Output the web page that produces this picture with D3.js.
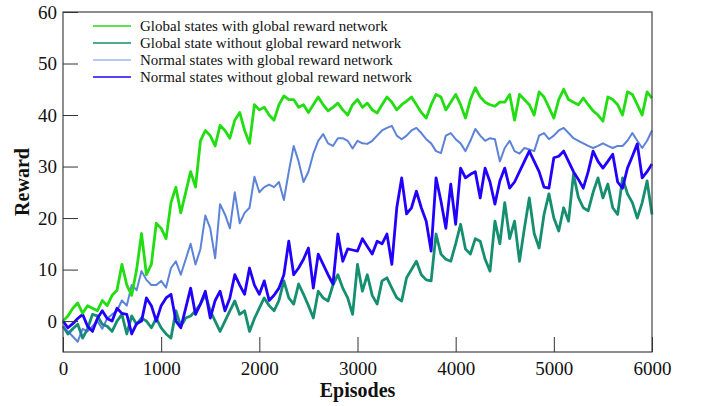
<!DOCTYPE html>
<html>
<head>
<meta charset="utf-8">
<script src="https://cdn.jsdelivr.net/npm/d3@7"></script>
<style>
  body { margin: 0; background: #fff; }
  svg { display: block; }
</style>
</head>
<body>
<div id="chart"></div>
<script>
// episodes sampled every 50 (0..6000)
const episodes = d3.range(0, 6001, 50);

const globalWithNet = [
  0, 1, 2.5, 3.5, 1.5, 3, 2.5, 2, 4, 3, 5, 6, 11, 7, 5, 10, 17, 9, 11, 19,
  18, 16, 23, 26, 21, 25, 29, 26, 35, 37, 36, 34, 38, 37, 35.5, 39, 40.5, 37, 34.5, 42,
  41, 41.5, 40, 39, 42, 43.7, 43, 43, 41.5, 42, 40.5, 42, 43.5, 42, 40.8, 41.5, 42.3, 41, 40, 42,
  43, 41.5, 42.3, 41, 40.4, 42, 43.5, 42.5, 41, 42, 42.7, 43.5, 42, 40.5, 39.4, 42, 44, 43.5, 41, 42.5,
  44, 42, 39.4, 43, 45.3, 43.5, 42.5, 42, 41.7, 42.5, 42.5, 44, 39, 44, 43, 42, 40, 44.5, 43.5, 41.5,
  39.4, 43, 45, 43, 42.5, 42, 43.3, 42, 40.8, 40, 38.8, 43.5, 43, 42, 40, 44.5, 44, 42, 40, 44.5,
  43.3
];

const globalWithoutNet = [
  -1, -2.5, -1.5, -0.6, -3.3, -1.5, 1.3, 1, -0.6, -1, -2, 0, 1.3, -2.5, 1, -0.6, 0.6, 0, -1.3, 0.5,
  -1.3, -2.5, -3.3, 2, -1, 0.6, 1, 2, 3.3, 5.2, 2, 0, -2, 0, 2, 3.9, 1.3, 2, -2, 0.5,
  2.5, 4.5, 3, 2, 4, 7.8, 4.5, 3.3, 7.2, 5.2, 3, 0.6, 5.8, 4.5, 3.9, 7, 9, 6.4, 4.5, 1.3,
  11, 5.8, 9, 5, 3.3, 7.8, 8.4, 6.4, 4.5, 3.9, 8.4, 10, 11.6, 9, 8, 7.8, 16.9, 13, 12, 11.6,
  15, 18.8, 14, 13, 16, 15.5, 12, 9.7, 19.4, 15, 23, 16, 19.4, 11.6, 18, 23.9, 17, 14.2, 20.7, 24.7,
  20, 17.5, 22, 19.4, 28.5, 24, 22, 21.4, 25, 27.8, 23.9, 26.6, 22, 20.7, 27.8, 24.7, 23, 20, 23, 27.2,
  20.7
];

const normalWithNet = [
  -1, -2, -3, -4, -1.5, -2, -1, 0, -1.5, 0.5, 1.3, 2, 4, 3, 7, 6, 9.7, 8, 7, 7,
  7.8, 6.5, 10.3, 11.6, 9, 12, 15, 11, 14, 20.5, 18, 12.2, 22.7, 20.7, 18, 25, 19, 21, 22, 28,
  25, 26, 26.5, 26, 27, 23.5, 29, 34, 31, 27, 29, 32.5, 35, 36.3, 34.5, 34, 35.5, 35.5, 35, 33.5,
  35, 34.5, 34.4, 35, 36, 37, 37.5, 37.9, 36, 35.3, 36, 37, 37.5, 36.5, 35.3, 34.5, 33, 32.6, 36, 36.5,
  35.3, 34.5, 33, 35, 37.3, 36, 35, 35.5, 35.3, 31, 33.6, 35, 33, 32.5, 33.6, 33.3, 33, 36, 36.5, 35.3,
  36, 37, 37.5, 36.5, 35.5, 35, 34.5, 34, 33.6, 34, 34.5, 34, 33.6, 34, 34, 35, 36.5, 35, 33.6, 35,
  37
];

const normalWithoutNet = [
  0, -1.3, -0.5, 0.5, 1.3, -1, -2, 0.5, 2, 0.5, 0, 2.5, 1.5, 1.3, -2.5, -0.5, 0, 4.5, 3, 0,
  3, 4.5, 5.2, 0, -1.3, 2.5, 6.4, 1.3, 3.3, 5.8, 0.6, 4, 5.8, 2, 4.5, 9, 7, 5.2, 10.3, 7,
  5.2, 7.8, 4, 5, 6.4, 9, 15.5, 9, 10.3, 12, 14.2, 6.4, 13, 11, 9, 7.2, 16.9, 11.6, 14, 13.8,
  13.6, 16, 14.5, 13, 15.5, 15, 16.9, 11, 22, 27.8, 20.8, 22, 25.2, 22, 19.4, 13.6, 27.8, 23.3, 18, 26.6,
  18.8, 29.7, 27.8, 28.5, 29, 23.9, 29.7, 27, 22.7, 27.2, 29.7, 25.8, 27, 29, 31, 33, 31, 29, 26, 25.8,
  31.7, 32, 33, 31, 29, 27.5, 25.8, 29, 33, 31, 29.7, 31, 32.4, 27, 25.8, 29.7, 32, 34.4, 27.8, 29,
  30.5
];

const seriesNames = [
  "Global states with global reward network",
  "Global state without global reward network",
  "Normal states with global reward network",
  "Normal states without global reward network"
];
const seriesValues = [globalWithNet, globalWithoutNet, normalWithNet, normalWithoutNet];
const lineColors = ["#22dd11", "#168f70", "#3464d0", "#2200ff"];
const legendColors = ["#22dd11", "#168f70", "#9db5ee", "#2200ff"];
const drawOrder = [1, 2, 3, 0];

const xTicks = [0, 1000, 2000, 3000, 4000, 5000, 6000];
const yTicks = [0, 10, 20, 30, 40, 50, 60];

const serif = '"Liberation Serif", "Times New Roman", Times, serif';
const width = 705, height = 406;
const margin = { top: 12, right: 53, bottom: 54, left: 63 };

const svg = d3.select('#chart').append('svg')
  .attr('width', width)
  .attr('height', height)
  .attr('font-family', serif);

const x = d3.scaleLinear().domain([0, 6000]).range([margin.left, width - margin.right]);
const y = d3.scaleLinear().domain([-6, 60]).range([height - margin.bottom, margin.top]);

// lines
const line = d3.line()
  .x((d, i) => x(episodes[i]))
  .y(d => y(d));

drawOrder.forEach(k => {
  svg.append('path')
    .datum(seriesValues[k])
    .attr('fill', 'none')
    .attr('stroke', lineColors[k])
    .attr('stroke-width', k === 2 ? 2 : 2.8)
    .attr('stroke-opacity', k === 2 ? 0.8 : 1)
    .attr('stroke-linejoin', 'round')
    .attr('d', line);
});

// frame
svg.append('rect')
  .attr('x', margin.left)
  .attr('y', margin.top)
  .attr('width', width - margin.left - margin.right)
  .attr('height', height - margin.top - margin.bottom)
  .attr('fill', 'none')
  .attr('stroke', '#444')
  .attr('stroke-width', 1.2);

// axes with inward ticks
const xAxis = svg.append('g')
  .attr('transform', `translate(0,${height - margin.bottom})`)
  .call(d3.axisBottom(x).tickValues(xTicks).tickSize(-15).tickPadding(10).tickFormat(d3.format('d')));
xAxis.attr('font-family', serif).attr('font-size', 19);
xAxis.select('.domain').remove();
xAxis.selectAll('line').attr('stroke', '#333');
xAxis.selectAll('text').attr('fill', '#111');

const yAxis = svg.append('g')
  .attr('transform', `translate(${margin.left},0)`)
  .call(d3.axisLeft(y).tickValues(yTicks).tickSize(-15).tickPadding(6).tickFormat(d3.format('d')));
yAxis.attr('font-family', serif).attr('font-size', 19);
yAxis.select('.domain').remove();
yAxis.selectAll('line').attr('stroke', '#333');
yAxis.selectAll('text').attr('fill', '#111');

// axis titles
svg.append('text')
  .attr('x', x(3000))
  .attr('y', 397)
  .attr('text-anchor', 'middle')
  .attr('font-size', 20)
  .attr('font-weight', 'bold')
  .attr('fill', '#111')
  .text('Episodes');

svg.append('text')
  .attr('transform', `translate(29,${y(27)}) rotate(-90)`)
  .attr('text-anchor', 'middle')
  .attr('font-size', 20)
  .attr('font-weight', 'bold')
  .attr('fill', '#111')
  .text('Reward');

// legend
const legend = svg.append('g').attr('transform', 'translate(93,26)');
seriesNames.forEach((name, i) => {
  const g = legend.append('g').attr('transform', `translate(0,${i * 17})`);
  g.append('line')
    .attr('x1', 0).attr('x2', 38)
    .attr('y1', 0).attr('y2', 0)
    .attr('stroke', legendColors[i])
    .attr('stroke-width', 1.5);
  g.append('text')
    .attr('x', 47)
    .attr('y', 5)
    .attr('font-size', 15)
    .attr('fill', '#111')
    .text(name);
});
</script>
</body>
</html>
